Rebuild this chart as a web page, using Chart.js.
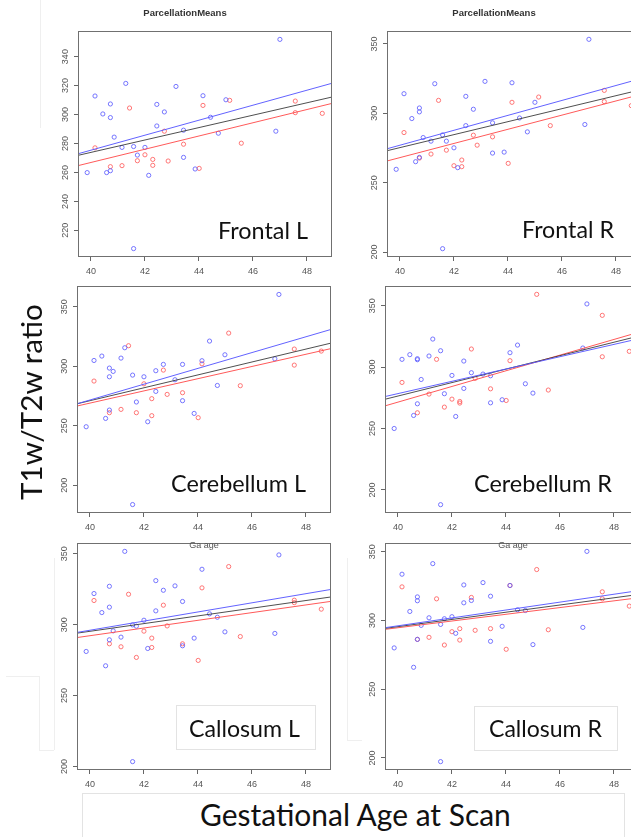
<!DOCTYPE html>
<html>
<head>
<meta charset="utf-8">
<script src="https://cdn.jsdelivr.net/npm/chart.js@4/dist/chart.umd.min.js"></script>
<style>
  html, body { margin: 0; padding: 0; background: #fff; }
  body { width: 631px; height: 837px; overflow: hidden; position: relative; }
  canvas.panel { position: absolute; }
  .lbl { position: absolute; white-space: nowrap; font-family: 'Lato', 'Open Sans', sans-serif; color: #111; line-height: 1; }
  .faint { position: absolute; background: #efefef; }
  .lblbox { position: absolute; border: 1px solid #e3e3e3; background: #fff; box-sizing: border-box; }
  .small { position: absolute; font: 9px 'Liberation Sans', Arial, sans-serif; color: #555; white-space: nowrap; transform: translate(-50%, -50%); }
</style>
</head>
<body>
<script>
// ---------------- data ----------------
const xTicks = [40, 42, 44, 46, 48];
const xRange = [39.52, 48.93];
const regionNames = ['Frontal L', 'Frontal R', 'Cerebellum L', 'Cerebellum R', 'Callosum L', 'Callosum R'];

// gestational age at scan (weeks) of the blue and red subjects
const ageBlue = [39.86, 40.15, 40.44, 40.72, 40.72, 40.58, 40.72, 40.86, 41.15, 41.29, 41.58, 41.72, 41.58, 42.00,
                 42.14, 42.44, 42.44, 42.72, 43.15, 43.43, 43.43, 43.86, 44.15, 44.43, 44.72, 45.00, 46.85, 47.00];
const ageRed = [40.15, 40.72, 41.15, 41.43, 41.72, 42.00, 42.29, 42.29, 42.72, 42.86, 43.43, 44.01, 44.15, 45.14,
                45.57, 47.57, 47.57, 48.57];

// T1w/T2w ratio values
const frontalL_blue = [259.9, 312.8, 300.4, 307.3, 297.9, 259.9, 261.2, 284.4, 277.3, 321.5, 277.9, 272.0, 207.4, 277.3,
                       258.0, 307.0, 292.1, 301.8, 319.4, 289.2, 270.4, 262.4, 313.0, 298.1, 287.1, 310.2, 288.5, 351.9];
const frontalL_red = [277.0, 264.0, 264.7, 304.5, 268.1, 272.2, 269.0, 264.9, 288.5, 267.9, 279.5, 262.8, 306.3, 309.8,
                      280.2, 309.3, 301.3, 300.8];
const frontalR_blue = [259.6, 314.1, 296.2, 303.8, 301.0, 265.1, 268.2, 282.5, 279.9, 321.3, 284.4, 279.9, 202.4, 275.1,
                       260.8, 312.2, 291.1, 302.9, 323.0, 293.1, 271.3, 272.0, 322.0, 296.6, 286.6, 307.9, 291.9, 353.3];
const frontalR_red = [286.1, 267.7, 270.6, 309.3, 273.4, 262.2, 266.3, 261.5, 284.2, 277.0, 283.0, 263.9, 307.9, 311.7,
                      291.1, 316.5, 308.4, 305.5];
const cerebellumL_blue = [249.2, 304.9, 308.6, 298.5, 291.2, 256.2, 263.2, 295.7, 306.9, 315.6, 292.6, 270.0, 183.8, 291.2,
                          253.4, 296.3, 278.9, 301.6, 288.7, 301.6, 271.1, 260.4, 304.7, 321.2, 283.9, 309.7, 306.3, 360.4];
const cerebellumL_red = [287.6, 261.0, 263.8, 317.3, 261.0, 285.3, 272.8, 258.5, 296.8, 276.4, 277.8, 256.8, 302.1, 327.9,
                         283.7, 314.5, 301.0, 312.8];
const cerebellumR_blue = [250.0, 306.3, 310.1, 306.8, 306.0, 260.6, 270.1, 289.9, 309.0, 322.8, 313.3, 278.3, 188.0, 293.2,
                          259.8, 304.9, 282.6, 295.4, 294.3, 292.9, 270.9, 273.4, 311.7, 317.9, 286.4, 278.8, 315.5, 351.4];
const cerebellumR_red = [287.5, 262.8, 278.0, 306.3, 267.4, 273.9, 272.0, 270.7, 314.7, 290.8, 282.3, 272.8, 305.2, 359.2,
                         281.3, 342.1, 308.4, 312.8];
const callosumL_blue = [281.1, 321.9, 308.5, 327.0, 312.3, 271.0, 289.3, 295.6, 291.2, 351.6, 299.8, 298.9, 203.5, 303.1,
                        283.2, 331.0, 309.7, 324.2, 327.3, 316.3, 285.1, 290.5, 339.0, 307.6, 305.2, 294.9, 293.8, 349.1];
const callosumL_red = [317.0, 286.5, 284.4, 321.4, 276.9, 295.4, 290.5, 283.9, 313.7, 299.1, 286.5, 274.8, 325.9, 340.9,
                       291.6, 317.2, 315.5, 310.9];
const callosumR_blue = [280.0, 333.6, 306.5, 317.1, 314.3, 265.9, 286.2, 296.4, 301.9, 341.3, 297.1, 301.2, 197.3, 302.7,
                        290.6, 325.8, 312.8, 314.5, 327.5, 317.6, 284.8, 295.7, 325.4, 307.7, 307.2, 282.4, 294.9, 350.2];
const callosumR_red = [324.4, 286.2, 287.7, 315.7, 282.1, 291.8, 294.0, 285.7, 316.7, 292.8, 294.0, 279.0, 325.4, 337.0,
                       293.2, 320.8, 315.7, 310.4];

// regression lines: value at x = xRange[0] and x = xRange[1]; order blue, black, red
const frontalL_fit = [[272.9, 321.6], [271.8, 312.1], [264.7, 307.7]];
const frontalR_fit = [[274.4, 325.0], [273.0, 317.0], [265.6, 313.6]];
const cerebellumL_fit = [[268.5, 331.0], [268.5, 319.5], [266.6, 314.9]];
const cerebellumR_fit = [[276.0, 323.1], [273.8, 325.3], [268.4, 328.4]];
const callosumL_fit = [[294.5, 324.8], [294.0, 319.5], [290.9, 316.4]];
const callosumR_fit = [[294.7, 321.7], [294.2, 318.9], [293.5, 316.5]];

// y axis ranges and tick labels
const yRanges = [[201.6, 357.7], [196.4, 359.3], [176.7, 367.5], [181.2, 366.0], [197.6, 357.5], [191.2, 356.3]];
const yTicksFrontalL = [220, 240, 260, 280, 300, 320, 340];
const yTicksOther = [200, 250, 300, 350];

// ---------------- layout (not data) ----------------
const panelBoxes = [ // plot-box left, top, width, height
  [78, 31, 254, 226], [387, 31, 254, 226],
  [77, 286, 254, 227], [385, 286, 254, 227],
  [77, 543, 254, 227], [385, 543, 254, 227]
];
const PAD_TOP = 31, AXIS_W = 40, AXIS_H = 24, PAD_RIGHT = 12;

const panelData = [
  [frontalL_blue, frontalL_red, frontalL_fit, yTicksFrontalL, true],
  [frontalR_blue, frontalR_red, frontalR_fit, yTicksOther, true],
  [cerebellumL_blue, cerebellumL_red, cerebellumL_fit, yTicksOther, false],
  [cerebellumR_blue, cerebellumR_red, cerebellumR_fit, yTicksOther, false],
  [callosumL_blue, callosumL_red, callosumL_fit, yTicksOther, false],
  [callosumR_blue, callosumR_red, callosumR_fit, yTicksOther, false]
];

const COL_PT_BLUE = 'rgba(95,95,255,0.85)';
const COL_PT_RED = 'rgba(255,95,95,0.85)';
const COL_LN = ['rgba(90,90,255,0.95)', 'rgba(60,60,60,0.9)', 'rgba(255,80,80,0.95)'];

const boxPlugin = {
  id: 'rbox',
  afterDraw(c) {
    const a = c.chartArea, ctx = c.ctx;
    ctx.save();
    ctx.strokeStyle = '#707070';
    ctx.lineWidth = 1;
    ctx.strokeRect(Math.round(a.left) + 0.5, Math.round(a.top) + 0.5,
                   Math.round(a.right - a.left) - 1, Math.round(a.bottom - a.top) - 1);
    ctx.restore();
  }
};

const tickFont = { family: "'Liberation Sans', Arial, sans-serif", size: 9 };

panelData.forEach((pd, i) => {
  const [blue, red, fit, yTicks, hasTitle] = pd;
  const [bl, bt, bw, bh] = panelBoxes[i];
  const cv = document.createElement('canvas');
  cv.className = 'panel';
  const W = AXIS_W + bw + PAD_RIGHT, H = PAD_TOP + bh + AXIS_H;
  cv.width = W; cv.height = H;
  cv.style.left = (bl - AXIS_W) + 'px';
  cv.style.top = (bt - PAD_TOP) + 'px';
  cv.style.width = W + 'px'; cv.style.height = H + 'px';
  document.body.appendChild(cv);

  const lineSets = fit.map((f, k) => ({
    data: [{ x: xRange[0], y: f[0] }, { x: xRange[1], y: f[1] }],
    showLine: true, borderColor: COL_LN[k], borderWidth: 1, pointRadius: 0, fill: false
  }));

  new Chart(cv, {
    type: 'scatter',
    data: {
      datasets: [
        ...lineSets,
        { label: 'blue', data: ageBlue.map((x, j) => ({ x, y: blue[j] })), pointRadius: 2.1, pointBorderWidth: 1,
          borderColor: COL_PT_BLUE, backgroundColor: 'rgba(0,0,0,0)', showLine: false },
        { label: 'red', data: ageRed.map((x, j) => ({ x, y: red[j] })), pointRadius: 2.1, pointBorderWidth: 1,
          borderColor: COL_PT_RED, backgroundColor: 'rgba(0,0,0,0)', showLine: false }
      ]
    },
    options: {
      responsive: false, animation: false, events: [],
      layout: { padding: { top: hasTitle ? 0 : PAD_TOP, right: PAD_RIGHT, left: 0, bottom: 0 } },
      plugins: {
        legend: { display: false }, tooltip: { enabled: false },
        title: {
          display: hasTitle, text: 'ParcellationMeans', color: '#333',
          font: { family: "'Liberation Sans', Arial, sans-serif", size: 9.5, weight: 'bold', lineHeight: 1.2 },
          padding: { top: 8, bottom: PAD_TOP - 8 - 11.4 }
        }
      },
      scales: {
        x: {
          type: 'linear', min: xRange[0], max: xRange[1],
          afterBuildTicks: s => { s.ticks = xTicks.map(v => ({ value: v })); },
          afterFit: s => { s.height = AXIS_H; },
          grid: { drawOnChartArea: false, drawTicks: true, tickLength: 4, color: '#666', tickColor: '#666' },
          border: { display: false },
          ticks: { font: tickFont, color: '#555', padding: 5, maxRotation: 0, autoSkip: false }
        },
        y: {
          type: 'linear', min: yRanges[i][0], max: yRanges[i][1],
          afterBuildTicks: s => { s.ticks = yTicks.map(v => ({ value: v })); },
          afterFit: s => { s.width = AXIS_W; },
          grid: { drawOnChartArea: false, drawTicks: true, tickLength: 4, color: '#666', tickColor: '#666' },
          border: { display: false },
          ticks: { font: tickFont, color: '#555', padding: 1, minRotation: 90, maxRotation: 90,
                   crossAlign: 'center', autoSkip: false }
        }
      }
    },
    plugins: [boxPlugin]
  });
});

// ---------------- decorations & text ----------------
function addDiv(cls, css, text) {
  const d = document.createElement('div');
  d.className = cls;
  Object.assign(d.style, css);
  if (text) d.textContent = text;
  document.body.appendChild(d);
  return d;
}
// faint leftover frame lines of the original slide
addDiv('faint', { left: '40px', top: '0px', width: '1px', height: '128px' });
addDiv('faint', { left: '6px', top: '676px', width: '33px', height: '1px' });
addDiv('faint', { left: '39px', top: '676px', width: '1px', height: '74px' });
addDiv('faint', { left: '39px', top: '750px', width: '15px', height: '1px' });
addDiv('faint', { left: '54px', top: '558px', width: '1px', height: '192px' });
addDiv('faint', { left: '347px', top: '558px', width: '1px', height: '183px' });
addDiv('faint', { left: '347px', top: '740px', width: '15px', height: '1px' });

// label boxes
addDiv('lblbox', { left: '176px', top: '705px', width: '140px', height: '45px' });
addDiv('lblbox', { left: '474px', top: '706px', width: '144px', height: '45px' });
addDiv('lblbox', { left: '82px', top: '793px', width: '543px', height: '60px' });

// small "Ga age" leftovers
addDiv('small', { left: '204px', top: '545px' }, 'Ga age');
addDiv('small', { left: '513px', top: '545px' }, 'Ga age');

// fitted big labels: [text, x1, x2, baseline]
const bigLabels = [
  [regionNames[0], 218, 308, 239.5],
  [regionNames[1], 522, 614, 238.5],
  [regionNames[2], 171, 306, 492.7],
  [regionNames[3], 474, 612, 492.7],
  [regionNames[4], 189, 300, 737.3],
  [regionNames[5], 489, 602, 737.3],
  ['Gestational Age at Scan', 200, 511, 827]
];
function fitSize(el, target) {
  el.style.fontSize = '100px';
  const w = el.getBoundingClientRect().width;
  return 100 * target / w;
}
bigLabels.forEach(([t, x1, x2, base]) => {
  const el = addDiv('lbl', { left: '0px', top: '0px' }, t);
  const s = fitSize(el, x2 - x1);
  el.style.fontSize = s + 'px';
  el.style.left = x1 + 'px';
  el.style.top = (base - 0.887 * s) + 'px';
});
// y axis title (rotated)
const yl = addDiv('lbl', { left: '0px', top: '0px' }, 'T1w/T2w ratio');
const ys = fitSize(yl, 196);
yl.style.fontSize = ys + 'px';
yl.style.left = '31px';
yl.style.top = '402px';
yl.style.transform = 'translate(-50%, -50%) rotate(-90deg)';
</script>
</body>
</html>
